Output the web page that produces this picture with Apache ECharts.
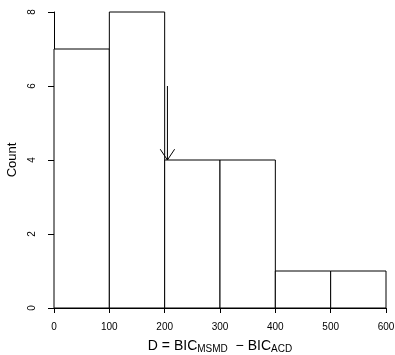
<!DOCTYPE html>
<html>
<head>
<meta charset="utf-8">
<script src="https://cdn.jsdelivr.net/npm/echarts@6/dist/echarts.min.js"></script>
<style>
    html, body { margin: 0; padding: 0; background: #fff; }
    #chart { width: 395px; height: 355px; }
</style>
</head>
<body>
<div id="chart"></div>
<script>
// histogram bins
const binStarts = [0, 100, 200, 300, 400, 500];
const binEnds = [100, 200, 300, 400, 500, 600];
const counts = [7, 8, 4, 4, 1, 1];

// arrow: from [x, yTop] to [x, yBottom]
const arrowFrom = [205, 6];
const arrowTo = [205, 4];

const font = "Liberation Sans, Arial, Helvetica, sans-serif";

let barData = [];
for (let i = 0; i < counts.length; i++) {
    barData.push([binStarts[i], binEnds[i], counts[i]]);
}

const chart = echarts.init(document.getElementById("chart"));

const option = {
    backgroundColor: "#fff",
    animation: false,
    grid: {
        left: 54,
        right: 9,
        top: 12,
        bottom: 47,
        outerBoundsMode: "none",
        containLabel: false
    },
    xAxis: {
        type: "value",
        min: 0,
        max: 600,
        interval: 100,
        name: "D = BIC{sub|MSMD}  − BIC{sub|ACD}",
        nameLocation: "middle",
        nameGap: 30,
        nameTextStyle: {
            color: "#000",
            fontFamily: font,
            fontSize: 14,
            rich: {
                sub: {
                    fontSize: 10,
                    fontFamily: font,
                    color: "#000",
                    padding: [6, 0, 0, 0]
                }
            }
        },
        axisLine: { show: true, lineStyle: { color: "#000", width: 1 } },
        axisTick: { show: true, length: 5, lineStyle: { color: "#000" } },
        axisLabel: {
            color: "#000",
            fontFamily: font,
            fontSize: 10,
            margin: 14
        },
        splitLine: { show: false }
    },
    yAxis: {
        type: "value",
        min: 0,
        max: 8,
        interval: 2,
        name: "Count",
        nameLocation: "middle",
        nameGap: 29,
        nameRotate: 90,
        nameTextStyle: {
            color: "#000",
            fontFamily: font,
            fontSize: 13
        },
        axisLine: { show: true, lineStyle: { color: "#000", width: 1 } },
        axisTick: { show: true, length: 6, lineStyle: { color: "#000" } },
        axisLabel: {
            color: "#000",
            fontFamily: font,
            fontSize: 10,
            rotate: 90,
            margin: 17
        },
        splitLine: { show: false }
    },
    series: [
        {
            name: "hist",
            type: "custom",
            data: barData,
            encode: { x: [0, 1], y: 2 },
            renderItem: function(params, api) {
                let p0 = api.coord([api.value(0), 0]);
                let p1 = api.coord([api.value(1), api.value(2)]);
                return {
                    type: "rect",
                    shape: {
                        x: p0[0],
                        y: p1[1],
                        width: p1[0] - p0[0],
                        height: p0[1] - p1[1]
                    },
                    style: {
                        fill: "#fff",
                        stroke: "#000",
                        lineWidth: 1
                    }
                };
            }
        },
        {
            name: "arrow",
            type: "custom",
            data: [[arrowFrom[0], arrowFrom[1], arrowTo[0], arrowTo[1]]],
            encode: { x: [0, 2], y: [1, 3] },
            z: 10,
            renderItem: function(params, api) {
                let a = api.coord([api.value(0), api.value(1)]);
                let b = api.coord([api.value(2), api.value(3)]);
                let head = 8;
                return {
                    type: "group",
                    children: [
                        {
                            type: "line",
                            shape: { x1: a[0], y1: a[1], x2: b[0], y2: b[1] },
                            style: { stroke: "#000", lineWidth: 1 }
                        },
                        {
                            type: "polyline",
                            shape: {
                                points: [
                                    [b[0] - head * 0.9, b[1] - head * 1.35],
                                    [b[0], b[1]],
                                    [b[0] + head * 0.9, b[1] - head * 1.35]
                                ]
                            },
                            style: { stroke: "#000", lineWidth: 1, fill: null }
                        }
                    ]
                };
            }
        }
    ]
};

chart.setOption(option);
</script>
</body>
</html>
